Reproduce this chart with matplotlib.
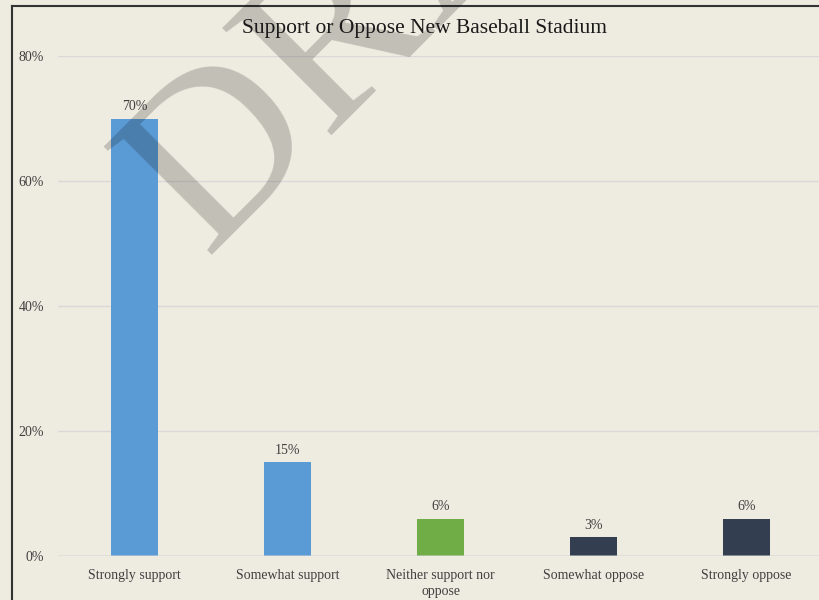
import matplotlib.pyplot as plt
from matplotlib.lines import Line2D
from matplotlib.ticker import PercentFormatter

categories = ['Strongly support', 'Somewhat support', 'Neither support nor\noppose',
              'Somewhat oppose', 'Strongly oppose']
values = [70, 15, 6, 3, 6]
bar_colors = ['#5B9BD5', '#5B9BD5', '#70AD47', '#333F50', '#333F50']
yticks = [0, 20, 40, 60, 80]

bg = '#EEEBE0'
plt.rcParams['font.family'] = ['Liberation Serif', 'DejaVu Serif']

fig = plt.figure(figsize=(8.19, 6.0), dpi=100, facecolor=bg)
ax = fig.add_axes([58 / 819, 1 - 556 / 600, 765 / 819, 500 / 600])
ax.set_facecolor(bg)

x = range(len(categories))
ax.bar(x, values, width=0.31, color=bar_colors, zorder=2)
for xi, v in zip(x, values):
    ax.annotate('%d%%' % v, (xi, v), xytext=(0, 4), textcoords='offset points',
                ha='center', va='bottom', fontsize=10, color='#404040')

ax.set_xlim(-0.5, 4.5)
ax.set_ylim(0, 80)
ax.set_yticks(yticks)
ax.yaxis.set_major_formatter(PercentFormatter(decimals=0))
ax.set_xticks(list(x))
ax.set_xticklabels(categories, linespacing=1.25)
ax.tick_params(axis='both', length=0, labelsize=10, labelcolor='#404040')
ax.tick_params(axis='x', pad=9.5)
ax.tick_params(axis='y', pad=10)
ax.grid(axis='y', color='#D9D9D9', linewidth=1, zorder=1)
ax.axhline(0, color='#D9D9D9', linewidth=1.2, alpha=0.6, zorder=3)
for s in ax.spines.values():
    s.set_visible(False)

# watermark
fig.text(205 / 819, 1 - 255 / 600, 'DRAFT', rotation=45, rotation_mode='anchor',
         ha='left', va='baseline', fontsize=168, color='black', alpha=0.19, zorder=10)

fig.text(424 / 819, 1 - 28 / 600, 'Support or Oppose New Baseball Stadium',
         ha='center', va='center', fontsize=15.5, color='#1a1a1a', zorder=11)

# outer frame (left and top edges)
fig.add_artist(Line2D([12 / 819, 12 / 819], [0, 1 - 6 / 600], color='#333333', linewidth=1.5))
fig.add_artist(Line2D([12 / 819, 1], [1 - 6 / 600, 1 - 6 / 600], color='#333333', linewidth=1.5))

fig.savefig('out.png', dpi=100, facecolor=bg)
